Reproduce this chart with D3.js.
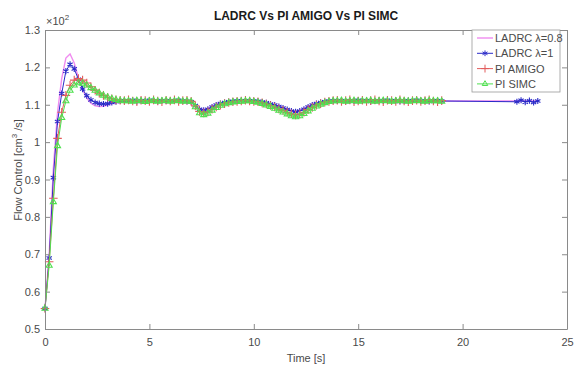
<!DOCTYPE html>
<html>
<head>
<meta charset="utf-8">
<script src="https://cdn.jsdelivr.net/npm/d3@7"></script>
<style>
  body { margin: 0; background: #fff; }
  text { font-family: "Liberation Sans", Arial, sans-serif; }
</style>
</head>
<body>
<div id="chart"></div>
<script>
// time grid [s] shared by the four responses
var time = [
  0, 0.2, 0.4, 0.6, 0.8, 1, 1.2, 1.4, 1.6, 1.8,
  2, 2.2, 2.4, 2.6, 2.8, 3, 3.2, 3.4, 3.6, 3.8,
  4, 4.2, 4.4, 4.6, 4.8, 5, 5.2, 5.4, 5.6, 5.8,
  6, 6.2, 6.4, 6.6, 6.8, 7, 7.2, 7.4, 7.6, 7.8,
  8, 8.2, 8.4, 8.6, 8.8, 9, 9.2, 9.4, 9.6, 9.8,
  10, 10.2, 10.4, 10.6, 10.8, 11, 11.2, 11.4, 11.6, 11.8,
  12, 12.2, 12.4, 12.6, 12.8, 13, 13.2, 13.4, 13.6, 13.8,
  14, 14.2, 14.4, 14.6, 14.8, 15, 15.2, 15.4, 15.6, 15.8,
  16, 16.2, 16.4, 16.6, 16.8, 17, 17.2, 17.4, 17.6, 17.8,
  18, 18.2, 18.4, 18.6, 18.8, 19
];

// flow control, x10^2 cm^3/s
var ladrc08 = [
  0.555, 0.70, 0.93, 1.08, 1.17, 1.225, 1.236, 1.212, 1.172, 1.140,
  1.118, 1.104, 1.097, 1.095, 1.096, 1.099, 1.103, 1.106, 1.109, 1.110,
  1.111, 1.110, 1.110, 1.111, 1.110, 1.110, 1.111, 1.110, 1.110, 1.111,
  1.110, 1.110, 1.111, 1.110, 1.110, 1.108, 1.099, 1.090, 1.087, 1.090,
  1.096, 1.101, 1.105, 1.107, 1.109, 1.110, 1.110, 1.111, 1.110, 1.110,
  1.110, 1.109, 1.108, 1.106, 1.103, 1.100, 1.096, 1.092, 1.088, 1.084,
  1.082, 1.085, 1.090, 1.096, 1.101, 1.105, 1.107, 1.109, 1.110, 1.110,
  1.110, 1.111, 1.110, 1.110, 1.111, 1.110, 1.110, 1.110, 1.111, 1.110,
  1.110, 1.110, 1.111, 1.110, 1.110, 1.110, 1.111, 1.110, 1.110, 1.110,
  1.110, 1.111, 1.110, 1.110, 1.110, 1.110
];
var ladrc1 = [
  0.555, 0.69, 0.905, 1.055, 1.13, 1.19, 1.208, 1.196, 1.168, 1.142,
  1.124, 1.113, 1.106, 1.103, 1.102, 1.103, 1.106, 1.108, 1.110, 1.111,
  1.110, 1.112, 1.109, 1.111, 1.110, 1.112, 1.110, 1.109, 1.111, 1.110,
  1.111, 1.110, 1.112, 1.110, 1.109, 1.108, 1.098, 1.088, 1.085, 1.088,
  1.094, 1.099, 1.103, 1.106, 1.108, 1.109, 1.110, 1.111, 1.110, 1.111,
  1.110, 1.109, 1.107, 1.105, 1.102, 1.099, 1.095, 1.091, 1.087, 1.083,
  1.081, 1.083, 1.088, 1.094, 1.099, 1.103, 1.106, 1.108, 1.110, 1.111,
  1.110, 1.111, 1.109, 1.111, 1.110, 1.112, 1.110, 1.111, 1.109, 1.110,
  1.111, 1.110, 1.112, 1.110, 1.111, 1.109, 1.110, 1.111, 1.110, 1.112,
  1.110, 1.111, 1.109, 1.110, 1.111, 1.110
];
var piAmigo = [
  0.555, 0.68, 0.85, 1.01, 1.08, 1.125, 1.152, 1.166, 1.170, 1.166,
  1.158, 1.148, 1.139, 1.131, 1.125, 1.120, 1.116, 1.113, 1.112, 1.111,
  1.113, 1.110, 1.108, 1.112, 1.111, 1.109, 1.113, 1.110, 1.108, 1.112,
  1.110, 1.113, 1.109, 1.111, 1.112, 1.109, 1.097, 1.082, 1.078, 1.081,
  1.088, 1.094, 1.099, 1.103, 1.106, 1.108, 1.109, 1.110, 1.112, 1.110,
  1.109, 1.108, 1.105, 1.102, 1.098, 1.094, 1.089, 1.085, 1.080, 1.076,
  1.073, 1.075, 1.080, 1.087, 1.093, 1.099, 1.103, 1.107, 1.109, 1.111,
  1.112, 1.109, 1.111, 1.113, 1.108, 1.110, 1.112, 1.109, 1.111, 1.113,
  1.110, 1.108, 1.112, 1.111, 1.109, 1.113, 1.110, 1.108, 1.111, 1.112,
  1.109, 1.111, 1.113, 1.110, 1.108, 1.111
];
var piSimc = [
  0.555, 0.67, 0.84, 0.99, 1.065, 1.11, 1.138, 1.152, 1.158, 1.157,
  1.152, 1.145, 1.138, 1.131, 1.125, 1.120, 1.116, 1.113, 1.111, 1.110,
  1.110, 1.109, 1.111, 1.110, 1.108, 1.110, 1.111, 1.109, 1.110, 1.111,
  1.109, 1.110, 1.111, 1.109, 1.110, 1.108, 1.094, 1.078, 1.073, 1.077,
  1.085, 1.092, 1.098, 1.102, 1.105, 1.107, 1.108, 1.109, 1.110, 1.110,
  1.108, 1.106, 1.103, 1.099, 1.095, 1.090, 1.085, 1.080, 1.075, 1.070,
  1.067, 1.070, 1.076, 1.083, 1.090, 1.096, 1.101, 1.105, 1.108, 1.110,
  1.110, 1.111, 1.109, 1.110, 1.111, 1.109, 1.110, 1.110, 1.111, 1.109,
  1.110, 1.111, 1.110, 1.109, 1.110, 1.111, 1.110, 1.109, 1.110, 1.111,
  1.110, 1.109, 1.111, 1.110, 1.110, 1.109
];

// the two LADRC runs go on a bit longer
var ladrcTailTime = [22.6, 22.8, 23.0, 23.2, 23.4, 23.6];
var ladrc08Tail = [1.110, 1.110, 1.110, 1.110, 1.110, 1.110];
var ladrc1Tail = [1.108, 1.112, 1.107, 1.111, 1.106, 1.110];

var xTicks = [0, 5, 10, 15, 20, 25];
var yTicks = [0.5, 0.6, 0.7, 0.8, 0.9, 1, 1.1, 1.2, 1.3];
var yTickLabels = ["0.5", "0.6", "0.7", "0.8", "0.9", "1", "1.1", "1.2", "1.3"];
var seriesNames = ["LADRC \u03bb=0.8", "LADRC \u03bb=1", "PI AMIGO", "PI SIMC"];

var margin = { top: 30, right: 7, bottom: 41, left: 45 },
    width = 574 - margin.left - margin.right,
    height = 370 - margin.top - margin.bottom;

var x = d3.scaleLinear().domain([0, 25]).range([0, width]);
var y = d3.scaleLinear().domain([0.5, 1.3]).range([height, 0]);

var svg = d3.select("#chart").append("svg")
    .attr("width", 574)
    .attr("height", 370);

// the source picture is a soft jpeg, so blur the traces a little
svg.append("defs").append("filter")
    .attr("id", "soft")
    .append("feGaussianBlur")
    .attr("stdDeviation", 0.45);

var g = svg.append("g")
    .attr("transform", "translate(" + margin.left + "," + margin.top + ")");

function pts(ts, vs) {
    return ts.map(function (t, i) { return [t, vs[i]]; });
}

var series = [
    { name: seriesNames[0], color: "#f08cf0", data: pts(time, ladrc08).concat(pts(ladrcTailTime, ladrc08Tail)), symbol: null, lw: 1.4 },
    { name: seriesNames[1], color: "#2b2bc8", data: pts(time, ladrc1).concat(pts(ladrcTailTime, ladrc1Tail)), symbol: d3.symbolAsterisk, lw: 1 },
    { name: seriesNames[2], color: "#e25c5c", data: pts(time, piAmigo), symbol: d3.symbolPlus, lw: 1 },
    { name: seriesNames[3], color: "#4fe04f", data: pts(time, piSimc), symbol: d3.symbolTriangle2, lw: 1 }
];

var line = d3.line()
    .x(function (d) { return x(d[0]); })
    .y(function (d) { return y(d[1]); });

// plot the curves
var traces = g.append("g").attr("filter", "url(#soft)");
series.forEach(function (s) {
    traces.append("path")
        .datum(s.data)
        .attr("fill", "none")
        .attr("stroke", s.color)
        .attr("stroke-width", s.lw)
        .attr("d", line);
    if (s.symbol) {
        traces.selectAll(null)
            .data(s.data)
            .enter().append("path")
            .attr("transform", function (d) { return "translate(" + x(d[0]) + "," + y(d[1]) + ")"; })
            .attr("d", d3.symbol().type(s.symbol).size(26))
            .attr("fill", "none")
            .attr("stroke", s.color)
            .attr("stroke-width", 1.1);
    }
});

// axes, MATLAB style box with inward ticks
var axisColor = "#8a8a8a";
function styleAxis(sel) {
    sel.selectAll("path, line").attr("stroke", axisColor);
    sel.selectAll("text")
        .attr("fill", "#4a4a4a")
        .style("font-size", "11px")
        .style("font-family", "'Liberation Sans', Arial, sans-serif");
}

g.append("g")
    .attr("transform", "translate(0," + height + ")")
    .call(d3.axisBottom(x).tickValues(xTicks).tickSizeInner(-5).tickSizeOuter(0).tickPadding(9))
    .call(styleAxis);
g.append("g")
    .call(d3.axisTop(x).tickValues(xTicks).tickSizeInner(-5).tickSizeOuter(0).tickFormat(""))
    .call(styleAxis);
g.append("g")
    .call(d3.axisLeft(y).tickValues(yTicks).tickSizeInner(-5).tickSizeOuter(0).tickPadding(5)
        .tickFormat(function (d, i) { return yTickLabels[i]; }))
    .call(styleAxis);
g.append("g")
    .attr("transform", "translate(" + width + ",0)")
    .call(d3.axisRight(y).tickValues(yTicks).tickSizeInner(-5).tickSizeOuter(0).tickFormat(""))
    .call(styleAxis);

// exponent label
var expo = svg.append("text")
    .attr("x", margin.left + 1)
    .attr("y", 25)
    .attr("fill", "#4a4a4a")
    .style("font-size", "11px");
expo.append("tspan").text("\u00d710");
expo.append("tspan").attr("dy", -5).style("font-size", "8px").text("2");

// title
svg.append("text")
    .attr("x", margin.left + width / 2)
    .attr("y", 20)
    .attr("text-anchor", "middle")
    .attr("fill", "#1a1a1a")
    .style("font-size", "12px")
    .style("font-weight", "bold")
    .text("LADRC Vs PI AMIGO Vs PI SIMC");

// x label
svg.append("text")
    .attr("x", margin.left + width / 2)
    .attr("y", 362)
    .attr("text-anchor", "middle")
    .attr("fill", "#4a4a4a")
    .style("font-size", "11px")
    .text("Time [s]");

// y label
var yl = svg.append("text")
    .attr("transform", "translate(22,170) rotate(-90)")
    .attr("text-anchor", "middle")
    .attr("fill", "#4a4a4a")
    .style("font-size", "11px");
yl.append("tspan").text("Flow Control [cm");
yl.append("tspan").attr("dy", -5).style("font-size", "8px").text("3");
yl.append("tspan").attr("dy", 5).text(" /s]");

// legend
var lg = svg.append("g").attr("transform", "translate(472,30)");
lg.append("rect")
    .attr("width", 88)
    .attr("height", 62)
    .attr("fill", "#fff")
    .attr("stroke", "#999")
    .attr("stroke-width", 0.8);
series.forEach(function (s, i) {
    var yy = 8 + i * 15.3;
    lg.append("line")
        .attr("x1", 5).attr("x2", 21)
        .attr("y1", yy).attr("y2", yy)
        .attr("stroke", s.color)
        .attr("stroke-width", s.lw);
    if (s.symbol) {
        lg.append("path")
            .attr("transform", "translate(13," + yy + ")")
            .attr("d", d3.symbol().type(s.symbol).size(22))
            .attr("fill", "none")
            .attr("stroke", s.color);
    }
    lg.append("text")
        .attr("x", 23)
        .attr("y", yy + 4)
        .attr("fill", "#4a4a4a")
        .style("font-size", "11px")
        .text(s.name);
});
</script>
</body>
</html>
